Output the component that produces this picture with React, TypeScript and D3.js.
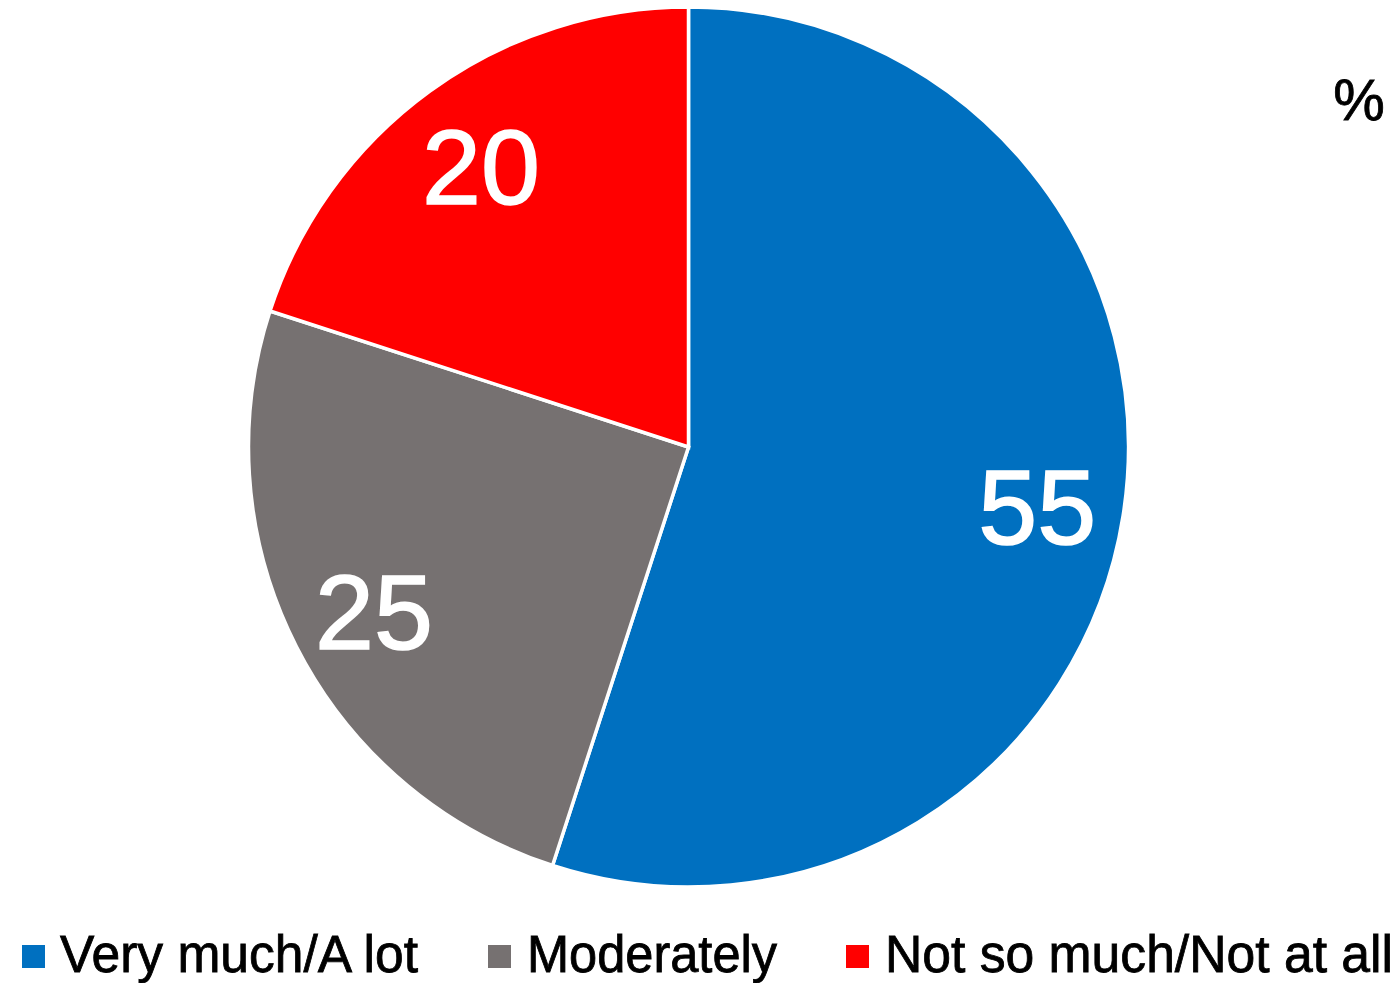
import React from "react";
import * as d3 from "d3";

const categories = ["Very much/A lot", "Moderately", "Not so much/Not at all"];
const values = [55, 25, 20];
const colors = ["#0070C0", "#767171", "#FF0000"];
const unitLabel = "%";

const W = 1399;
const H = 983;
const cx = 688.5;
const cy = 447;
const radius = 440;
const labelRadius = 353;

// legend layout: marker x, text x, text width
const legendItems = [
  { mx: 22, tx: 60, tw: 358 },
  { mx: 488, tx: 527, tw: 250 },
  { mx: 846, tx: 885, tw: 508 },
];

export default function App() {
  const pie = d3.pie<number>().sort(null).value((d) => d);
  const arcs = pie(values);
  const arc = d3.arc<d3.PieArcDatum<number>>().innerRadius(0).outerRadius(radius);
  const labelArc = d3
    .arc<d3.PieArcDatum<number>>()
    .innerRadius(labelRadius)
    .outerRadius(labelRadius);

  const font = "'Liberation Sans', Arial, sans-serif";

  return (
    <svg
      width={W}
      height={H}
      style={{ position: "absolute", left: 0, top: 0, background: "#fff" }}
      fontFamily={font}
    >
      <g transform={`translate(${cx},${cy})`}>
        {arcs.map((a, i) => (
          <path
            key={i}
            d={arc(a) ?? ""}
            fill={colors[i]}
            stroke="#fff"
            strokeWidth={3.5}
            strokeLinejoin="miter"
          />
        ))}
        {arcs.map((a, i) => {
          const [x, y] = labelArc.centroid(a);
          return (
            <text
              key={i}
              x={x}
              y={y + 4}
              dy="0.36em"
              textAnchor="middle"
              fill="#fff"
              stroke="#fff"
              strokeWidth={1.6}
              fontSize={106}
            >
              {values[i]}
            </text>
          );
        })}
      </g>
      <text
        x={1359}
        y={120}
        textAnchor="middle"
        fontSize={58}
        fill="#000"
        stroke="#000"
        strokeWidth={0.8}
      >
        {unitLabel}
      </text>
      {categories.map((c, i) => (
        <g key={c}>
          <rect x={legendItems[i].mx} y={945} width={23} height={23} fill={colors[i]} />
          <text
            x={legendItems[i].tx}
            y={972}
            fontSize={51}
            fill="#000"
            stroke="#000"
            strokeWidth={0.8}
            textLength={legendItems[i].tw}
            lengthAdjust="spacingAndGlyphs"
          >
            {c}
          </text>
        </g>
      ))}
    </svg>
  );
}
